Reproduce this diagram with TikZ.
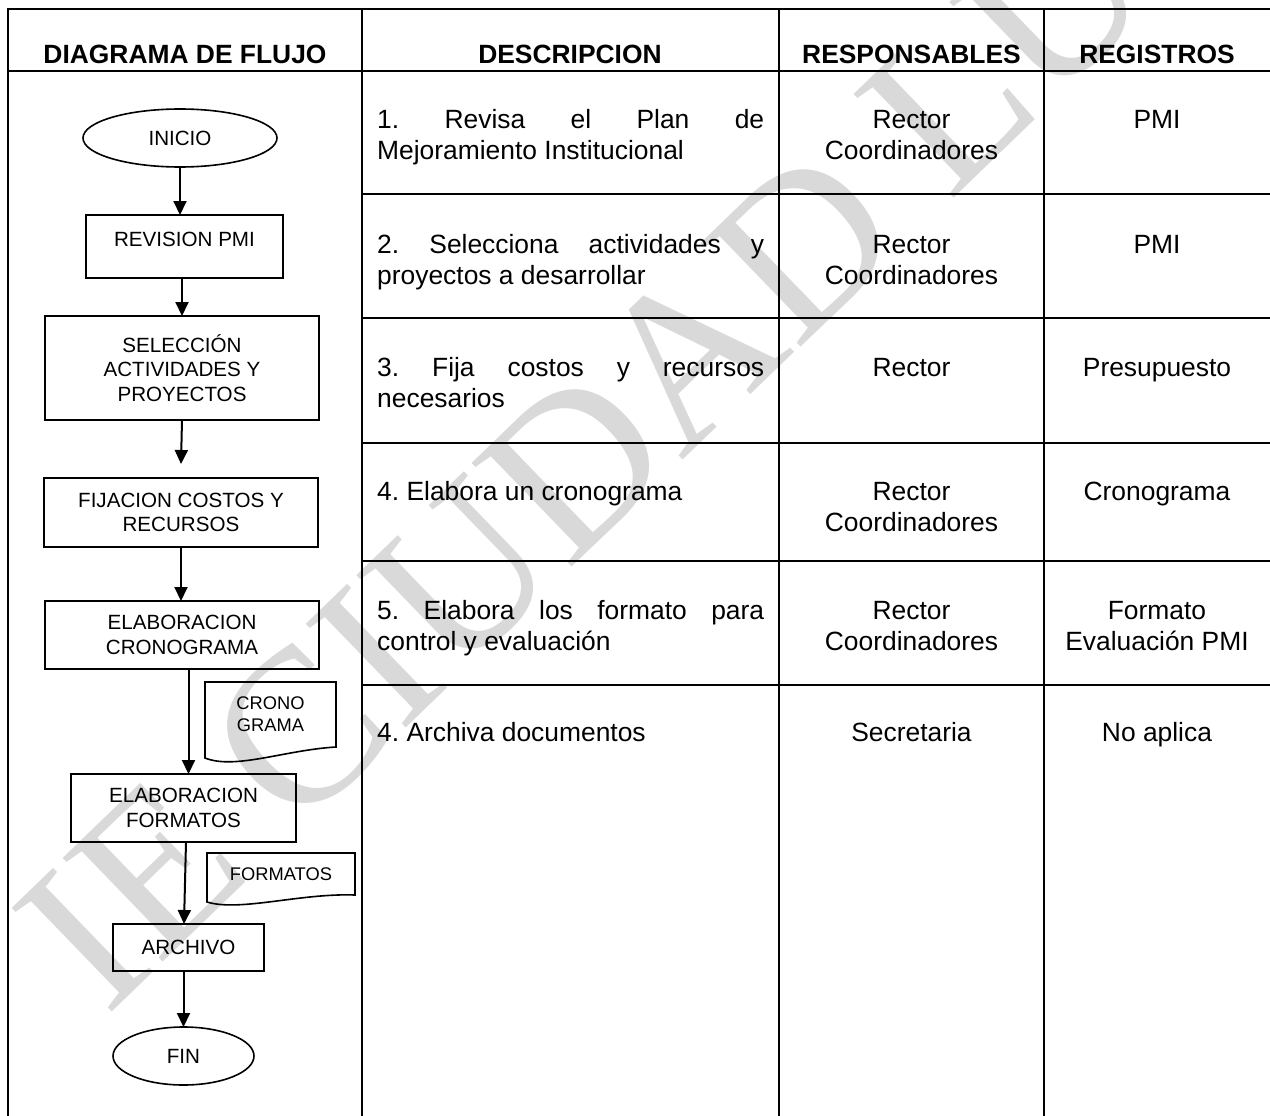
\documentclass[tikz,border=0pt]{standalone}
\usepackage{fontspec}
\setmainfont{Liberation Sans}
\newfontfamily\wmfont{Liberation Serif}
\usetikzlibrary{shapes.geometric,arrows.meta}
\definecolor{wmgray}{RGB}{217,217,217}
\newcommand\hdrfont{\fontsize{26.4}{30.5}\selectfont\bfseries}
\newcommand\celltxt{\fontsize{26.4}{30.5}\selectfont\frenchspacing}
\newcommand\flowtxt{\fontsize{20.6}{24.5}\selectfont}
\newcommand\doctxt{\fontsize{18.3}{22}\selectfont}
\tolerance=10000
\hbadness=10000
\hyphenpenalty=10000
\begin{document}
\begin{tikzpicture}[x=1pt,y=-1pt,
  tline/.style={line width=2.2pt, line join=miter},
  hdr/.style={font=\hdrfont, inner sep=0pt, anchor=base},
  cell/.style={font=\celltxt, inner sep=0pt, anchor=base},
  procbox/.style={draw, rectangle, line width=1.6pt, inner sep=0pt, outer sep=0pt, font=\flowtxt, align=center},
  term/.style={draw, ellipse, line width=1.6pt, inner sep=0pt, outer sep=0pt, font=\flowtxt},
  docnode/.style={rectangle, inner sep=0pt, outer sep=0pt, font=\doctxt, align=center},
  docline/.style={line width=1.6pt, line join=miter},
  flowarr/.style={line width=2pt, -{Triangle[width=13pt,length=14pt]}}]
\useasboundingbox (0,0) rectangle (1270,1116);
\fill[white] (0,0) rectangle (1270,1116);

% watermark
\node[rotate=44, inner sep=0pt, text=wmgray, font={\fontsize{220}{220}\wmfont}] (wm) at (632,410) {IE CIUDAD LUZ};

% table grid
\draw[tline] (1270,9) -- (8,9) -- (8,1116);
\draw[tline] (8,71) -- (1270,71);
\foreach \cx in {362,779,1044} \draw[tline] (\cx,9) -- (\cx,1116);
\foreach \ry in {194,318,443,561,685} \draw[tline] (362,\ry) -- (1270,\ry);

% headers
\node[hdr] (hflow) at (185,63.5) {DIAGRAMA DE FLUJO};
\node[hdr] (hdesc) at (570,63.5) {DESCRIPCION};
\node[hdr] (hresp) at (911.5,63.5) {RESPONSABLES};
\node[hdr] (hreg) at (1157,63.5) {REGISTROS};

% descriptions
\node[cell, anchor=base west] (d1) at (377,128.5) {\parbox[t]{387pt}{1. Revisa el Plan de\linebreak Mejoramiento Institucional}};
\node[cell, anchor=base west] (d2) at (377,253.5) {\parbox[t]{387pt}{2. Selecciona actividades y\linebreak proyectos a desarrollar}};
\node[cell, anchor=base west] (d3) at (377,376.5) {\parbox[t]{387pt}{3. Fija costos y recursos\linebreak necesarios}};
\node[cell, anchor=base west] (d4) at (377,500.5) {\parbox[t]{387pt}{4. Elabora un cronograma}};
\node[cell, anchor=base west] (d5) at (377,619.5) {\parbox[t]{387pt}{5. Elabora los formato para\linebreak control y evaluación}};
\node[cell, anchor=base west] (d6) at (377,741.5) {\parbox[t]{387pt}{4. Archiva documentos}};

% responsables
\node[cell] (r1) at (911.5,128.5) {\parbox[t]{250pt}{\centering Rector\\Coordinadores}};
\node[cell] (r2) at (911.5,253.5) {\parbox[t]{250pt}{\centering Rector\\Coordinadores}};
\node[cell] (r3) at (911.5,376.5) {\parbox[t]{250pt}{\centering Rector}};
\node[cell] (r4) at (911.5,500.5) {\parbox[t]{250pt}{\centering Rector\\Coordinadores}};
\node[cell] (r5) at (911.5,619.5) {\parbox[t]{250pt}{\centering Rector\\Coordinadores}};
\node[cell] (r6) at (911.5,741.5) {\parbox[t]{250pt}{\centering Secretaria}};

% registros
\node[cell] (g1) at (1157,128.5) {\parbox[t]{220pt}{\centering PMI}};
\node[cell] (g2) at (1157,253.5) {\parbox[t]{220pt}{\centering PMI}};
\node[cell] (g3) at (1157,376.5) {\parbox[t]{220pt}{\centering Presupuesto}};
\node[cell] (g4) at (1157,500.5) {\parbox[t]{220pt}{\centering Cronograma}};
\node[cell] (g5) at (1157,619.5) {\parbox[t]{220pt}{\centering Formato\\Evaluación PMI}};
\node[cell] (g6) at (1157,741.5) {\parbox[t]{220pt}{\centering No aplica}};

% flow chart
\node[term, minimum width=194pt, minimum height=58pt] (inicio) at (180,138) {INICIO};
\node[procbox, minimum width=197pt, minimum height=63pt, text depth=15pt] (rev) at (184.5,246.5) {REVISION PMI};
\node[procbox, minimum width=274pt, minimum height=104pt] (sel) at (182,368) {SELECCIÓN\\ACTIVIDADES Y\\PROYECTOS};
\node[procbox, minimum width=274pt, minimum height=69pt] (fij) at (181,512.5) {FIJACION COSTOS Y\\RECURSOS};
\node[procbox, minimum width=274pt, minimum height=68pt] (ecro) at (182,635) {ELABORACION\\CRONOGRAMA};
\node[docnode, minimum width=131pt, minimum height=65pt] (crono) at (270.5,714.5) {CRONO\\GRAMA};
\node[procbox, minimum width=225pt, minimum height=68pt] (efor) at (183.5,808) {ELABORACION\\FORMATOS};
\node[docnode, minimum width=148pt, minimum height=42pt] (formt) at (281,874) {FORMATOS};
\node[procbox, minimum width=151pt, minimum height=47pt] (arch) at (188.5,947.5) {ARCHIVO};
\node[term, minimum width=141pt, minimum height=58pt] (fin) at (183.5,1056) {FIN};

% document outlines
\draw[docline] (crono.north west) -- (crono.north east) -- (crono.south east)
  .. controls ([xshift=-51pt,yshift=-3pt]crono.south east) and ([xshift=30pt,yshift=-23pt]crono.south west)
  .. ([yshift=-11pt]crono.south west) -- cycle;
\draw[docline] (formt.north west) -- (formt.north east) -- (formt.south east)
  .. controls ([xshift=-55pt,yshift=2pt]formt.south east) and ([xshift=33pt,yshift=-17pt]formt.south west)
  .. ([yshift=-7pt]formt.south west) -- cycle;

% connectors
\draw[flowarr] (inicio.south) -- (inicio.south |- rev.north);
\draw[flowarr] (rev.south -| sel.north) -- (sel.north);
\draw[flowarr] (sel.south) -- ([yshift=14pt]fij.north);
\draw[flowarr] (fij.south) -- (fij.south |- ecro.north);
\draw[flowarr] (ecro.south -| arch.north) -- (efor.north -| arch.north);
\draw[flowarr] ([xshift=2.5pt]efor.south) -- ([xshift=-4.5pt]arch.north);
\draw[flowarr] (arch.south -| fin.north) -- (fin.north);
\end{tikzpicture}
\end{document}
